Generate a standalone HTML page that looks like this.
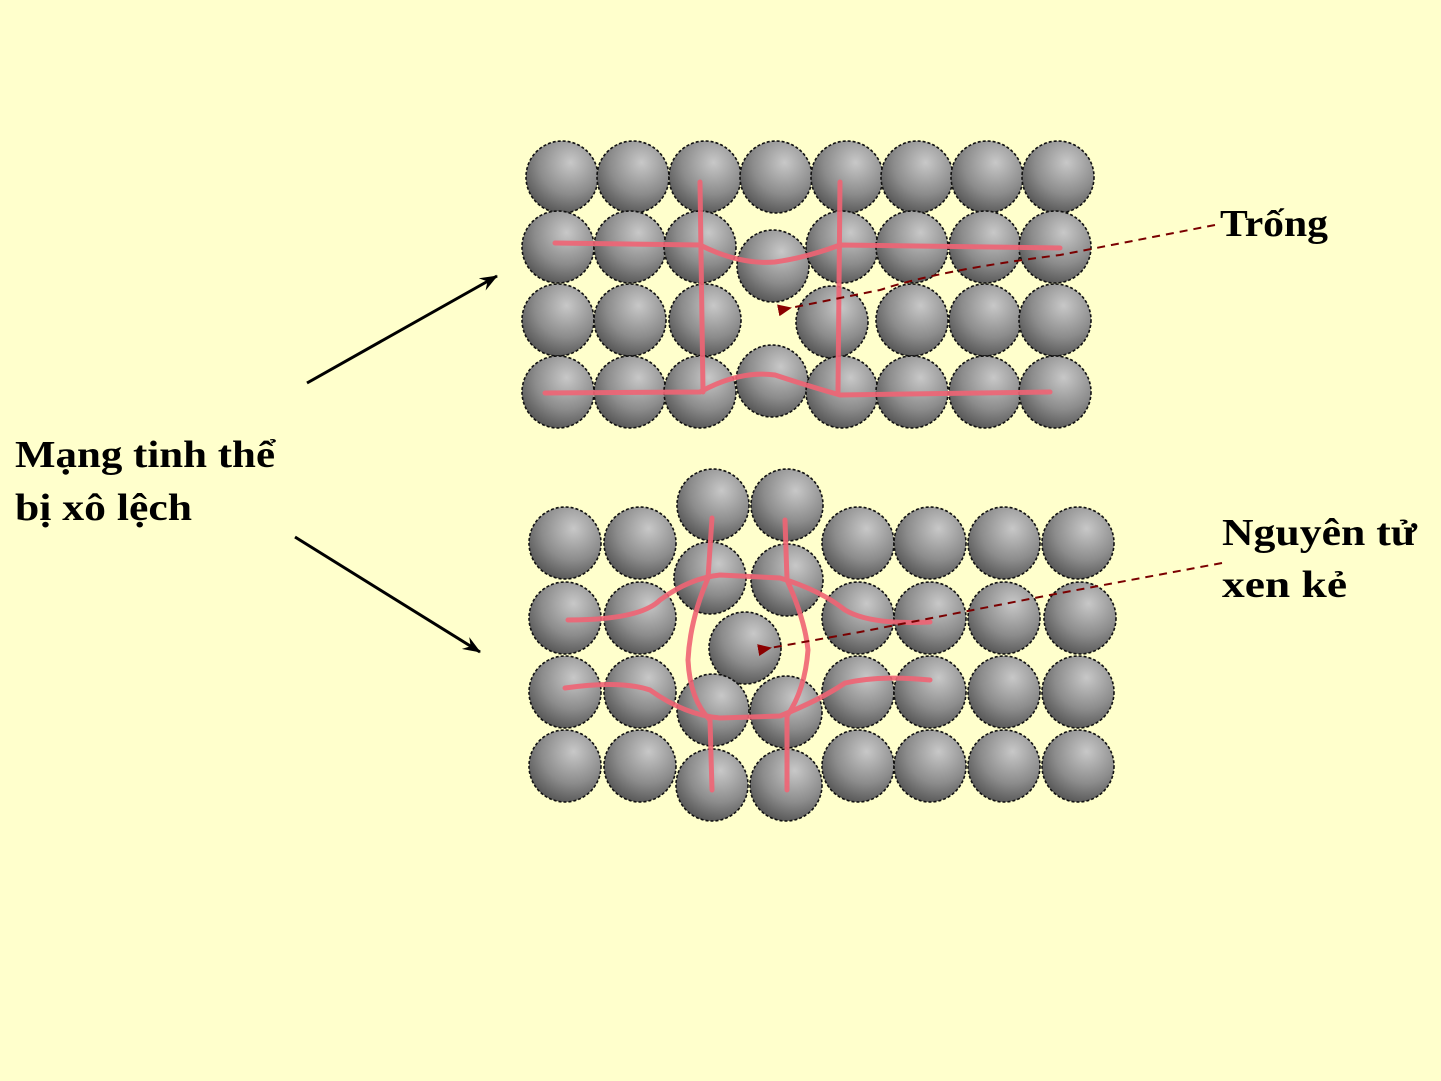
<!DOCTYPE html>
<html><head><meta charset="utf-8"><style>
html,body{margin:0;padding:0;background:#ffffcc;}
svg{display:block}
text{font-family:"Liberation Serif",serif;font-weight:bold;fill:#000;}
</style></head><body>
<svg width="1441" height="1081" viewBox="0 0 1441 1081" xmlns="http://www.w3.org/2000/svg">
<defs>
<radialGradient id="g" cx="0.62" cy="0.3" r="0.8">
<stop offset="0" stop-color="#c8c8c8"/>
<stop offset="0.55" stop-color="#8c8c8c"/>
<stop offset="1" stop-color="#4a4a4a"/>
</radialGradient>
<marker id="ah" markerWidth="18" markerHeight="14" refX="17" refY="7" orient="auto" markerUnits="userSpaceOnUse">
<path d="M0,0 L18,7 L0,14 L6,7 z" fill="#000"/></marker>
<marker id="rh" markerWidth="14" markerHeight="12" refX="2" refY="6" orient="auto" markerUnits="userSpaceOnUse">
<path d="M14,0 L0,6 L14,12 z" fill="#8b0000"/></marker>
</defs>
<rect width="1441" height="1081" fill="#ffffcc"/>
<g fill="url(#g)" stroke="#111" stroke-width="1.6" stroke-dasharray="3,2">
<circle cx="562" cy="177" r="36"/><circle cx="633" cy="177" r="36"/><circle cx="705" cy="177" r="36"/><circle cx="776" cy="177" r="36"/><circle cx="847" cy="177" r="36"/><circle cx="917" cy="177" r="36"/><circle cx="987" cy="177" r="36"/><circle cx="1058" cy="177" r="36"/>
<circle cx="558" cy="247" r="36"/><circle cx="630" cy="247" r="36"/><circle cx="700" cy="247" r="36"/><circle cx="773" cy="266" r="36"/><circle cx="842" cy="247" r="36"/><circle cx="912" cy="247" r="36"/><circle cx="985" cy="247" r="36"/><circle cx="1055" cy="247" r="36"/>
<circle cx="558" cy="320" r="36"/><circle cx="630" cy="320" r="36"/><circle cx="705" cy="320" r="36"/><circle cx="832" cy="322" r="36"/><circle cx="912" cy="320" r="36"/><circle cx="985" cy="320" r="36"/><circle cx="1055" cy="320" r="36"/>
<circle cx="558" cy="392" r="36"/><circle cx="630" cy="392" r="36"/><circle cx="700" cy="392" r="36"/><circle cx="772" cy="381" r="36"/><circle cx="842" cy="392" r="36"/><circle cx="912" cy="392" r="36"/><circle cx="985" cy="392" r="36"/><circle cx="1055" cy="392" r="36"/>
<circle cx="565" cy="543" r="36"/><circle cx="640" cy="543" r="36"/><circle cx="713" cy="505" r="36"/><circle cx="787" cy="505" r="36"/><circle cx="858" cy="543" r="36"/><circle cx="930" cy="543" r="36"/><circle cx="1004" cy="543" r="36"/><circle cx="1078" cy="543" r="36"/>
<circle cx="565" cy="618" r="36"/><circle cx="640" cy="618" r="36"/><circle cx="710" cy="578" r="36"/><circle cx="787" cy="580" r="36"/><circle cx="858" cy="618" r="36"/><circle cx="930" cy="618" r="36"/><circle cx="1004" cy="618" r="36"/><circle cx="1080" cy="618" r="36"/>
<circle cx="745" cy="648" r="36"/>
<circle cx="565" cy="692" r="36"/><circle cx="640" cy="692" r="36"/><circle cx="713" cy="710" r="36"/><circle cx="786" cy="712" r="36"/><circle cx="858" cy="692" r="36"/><circle cx="930" cy="692" r="36"/><circle cx="1004" cy="692" r="36"/><circle cx="1078" cy="692" r="36"/>
<circle cx="565" cy="766" r="36"/><circle cx="640" cy="766" r="36"/><circle cx="712" cy="785" r="36"/><circle cx="786" cy="785" r="36"/><circle cx="858" cy="766" r="36"/><circle cx="930" cy="766" r="36"/><circle cx="1004" cy="766" r="36"/><circle cx="1078" cy="766" r="36"/>
</g>
<g fill="none" stroke="#f06474" stroke-width="5" stroke-linecap="round" opacity="0.9">
<path d="M555,243 L700,245 Q740,265 775,262 Q805,258 840,245 L1060,248"/>
<path d="M545,393 L700,392 Q740,370 775,375 Q805,385 840,395 L1050,392"/>
<path d="M700,182 L703,392"/>
<path d="M840,182 L838,392"/>
<path d="M568,620 Q640,620 660,600 Q690,578 720,575 L780,578 Q820,590 845,610 Q870,625 930,622"/>
<path d="M565,688 Q620,680 650,690 Q685,715 720,718 L780,716 Q820,700 845,683 Q880,675 930,680"/>
<path d="M712,518 L708,578 Q690,620 688,660 Q690,700 710,720 L712,790"/>
<path d="M785,520 L787,580 Q805,620 808,650 Q805,690 787,716 L787,790"/>
</g>
<g fill="none" stroke="#7a0000" stroke-width="2" stroke-dasharray="8,6">
<path d="M1215,225 L1060,255 Q940,270 880,290 L790,308" marker-end="url(#rh)"/>
<path d="M1222,563 L1050,595 L860,632 L770,648" marker-end="url(#rh)"/>
</g>
<g stroke="#000" stroke-width="3">
<line x1="307" y1="383" x2="497" y2="276" marker-end="url(#ah)"/>
<line x1="295" y1="537" x2="480" y2="652" marker-end="url(#ah)"/>
</g>
<text x="15" y="467" font-size="38" textLength="260" lengthAdjust="spacingAndGlyphs">Mạng tinh thể</text>
<text x="15" y="520" font-size="38" textLength="177" lengthAdjust="spacingAndGlyphs">bị xô lệch</text>
<text x="1220" y="236" font-size="38" textLength="108" lengthAdjust="spacingAndGlyphs">Trống</text>
<text x="1222" y="545" font-size="38" textLength="195" lengthAdjust="spacingAndGlyphs">Nguyên tử</text>
<text x="1222" y="597" font-size="38" textLength="125" lengthAdjust="spacingAndGlyphs">xen kẻ</text>
</svg>
</body></html>
